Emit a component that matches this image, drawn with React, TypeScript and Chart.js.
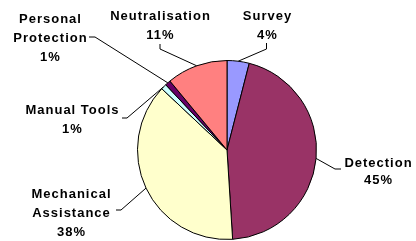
import React, { useEffect, useRef } from "react";
import { Chart, registerables } from "chart.js";

Chart.register(...registerables);

const categories = [
  "Survey",
  "Detection",
  "Mechanical Assistance",
  "Manual Tools",
  "Personal Protection",
  "Neutralisation",
];
const values = [4, 45, 38, 1, 1, 11];
const labelLines = [
  ["Survey", "4%"],
  ["Detection", "45%"],
  ["Mechanical", "Assistance", "38%"],
  ["Manual Tools", "1%"],
  ["Personal", "Protection", "1%"],
  ["Neutralisation", "11%"],
];
const colors = ["#9999FF", "#993366", "#FFFFCC", "#CCFFFF", "#660066", "#FF8080"];

// label layout relative to pie centre: text centre x, first baseline y, line height, leader path
const labelLayout = [
  { tx: 40, ty: -130, lh: 19, path: [[39.5, -101], [39.5, -107]] },
  { tx: 151, ty: 17, lh: 17, path: [[108, 19], [114, 19]] },
  { tx: -156, ty: 48, lh: 19, path: [[-106, 60], [-111, 60]] },
  { tx: -155, ty: -36, lh: 19, path: [[-100, -32], [-105, -32]] },
  { tx: -177, ty: -127, lh: 19, path: [[-132, -113], [-138, -113]] },
  { tx: -67, ty: -130, lh: 19, path: [[-67, -101], [-67, -106]] },
];

const outsideLabels = {
  id: "outsideLabels",
  afterDatasetsDraw(chart: any) {
    const ctx = chart.ctx;
    const meta = chart.getDatasetMeta(0);
    ctx.save();
    meta.data.forEach((arc: any, i: number) => {
      const p = arc.getProps(["x", "y", "startAngle", "endAngle", "outerRadius"], true);
      const mid = (p.startAngle + p.endAngle) / 2;
      const ax = p.x + Math.cos(mid) * p.outerRadius;
      const ay = p.y + Math.sin(mid) * p.outerRadius;
      const L = labelLayout[i];
      ctx.strokeStyle = "#000";
      ctx.lineWidth = 1;
      ctx.beginPath();
      ctx.moveTo(ax, ay);
      L.path.forEach(([dx, dy]) => ctx.lineTo(p.x + dx, p.y + dy));
      ctx.stroke();
      ctx.fillStyle = "#000";
      ctx.font = "bold 13px 'Liberation Sans', Arial, sans-serif";
      (ctx as any).letterSpacing = "1px";
      ctx.textAlign = "center";
      ctx.textBaseline = "alphabetic";
      labelLines[i].forEach((line, j) => {
        ctx.fillText(line, p.x + L.tx + 0.5, p.y + L.ty + j * L.lh);
      });
    });
    ctx.restore();
  },
};

export default function App() {
  const ref = useRef<HTMLCanvasElement>(null);
  useEffect(() => {
    document.body.style.margin = "0";
    const chart = new Chart(ref.current!, {
      type: "pie",
      data: {
        labels: categories,
        datasets: [
          {
            data: values,
            backgroundColor: colors,
            borderColor: "#000",
            borderWidth: 1,
          },
        ],
      },
      options: {
        animation: false,
        responsive: false,
        layout: { padding: { top: 60, left: 137, right: 99, bottom: 1 } },
        plugins: {
          legend: { display: false },
          tooltip: { enabled: false },
        },
      },
      plugins: [outsideLabels],
    });
    return () => chart.destroy();
  }, []);
  return (
    <div style={{ position: "absolute", left: 0, top: 0, width: 416, height: 241, background: "#fff" }}>
      <canvas ref={ref} width={416} height={241} style={{ width: 416, height: 241 }} />
    </div>
  );
}
